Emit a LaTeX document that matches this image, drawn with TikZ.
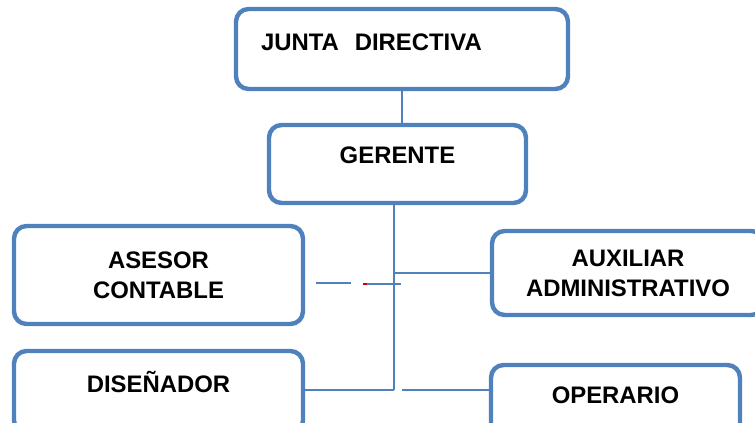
\documentclass[tikz,border=0pt]{standalone}
\usepackage{fontspec}
\setmainfont{Liberation Sans}
\usepackage{tikz}
\definecolor{cajaazul}{RGB}{79,129,189}

\begin{document}
\begin{tikzpicture}[x=0.02cm,y=-0.02cm,
    every node/.style={draw=cajaazul,line width=2.5pt,rounded corners=0.25cm,fill=white,
      font=\bfseries\fontsize{13.6}{17}\selectfont,align=center},
    linea/.style={draw=cajaazul,line width=1.1pt}]
  \useasboundingbox (0,0) rectangle (755,423);

  \node[rectangle,minimum width=6.64cm,minimum height=1.6cm,text width=5.64cm,align=left,
    text height=9.7pt,text depth=7.9pt] (junta) at (402,49) {JUNTA\ \ DIRECTIVA};
  \node[rectangle,minimum width=5.14cm,minimum height=1.56cm,
    text height=9.7pt,text depth=10.2pt] (gerente) at (397.5,164) {GERENTE};
  \node[rectangle,minimum width=5.78cm,minimum height=1.96cm] (asesor) at (158.5,275) {ASESOR\\CONTABLE};
  \node[rectangle,minimum width=5.44cm,minimum height=1.68cm] (auxiliar) at (628,273) {AUXILIAR\\ADMINISTRATIVO};
  \node[rectangle,minimum width=5.78cm,minimum height=1.64cm,
    text height=9.7pt,text depth=9pt] (disenador) at (158.5,392) {DISEÑADOR};
  \node[rectangle,minimum width=4.98cm,minimum height=1.6cm,
    text height=9.7pt,text depth=11.3pt] (operario) at (615.5,405) {OPERARIO};

  % puntos de union
  \coordinate (tronco) at (394,390);
  \coordinate (opinicio) at (402,390);
  \coordinate (trazoA) at (316,283);
  \coordinate (trazoB) at (351,283);
  \coordinate (rojoA) at (363,284);
  \coordinate (rojoB) at (367,284);
  \coordinate (trazoC) at (366,284);
  \coordinate (trazoD) at (401,284);

  \draw[linea] (junta.south) -- (junta.south |- gerente.north);
  \draw[linea] (gerente.south -| tronco) -- (tronco);
  \draw[linea] (tronco |- auxiliar.west) -- (auxiliar.west);
  \draw[linea] (disenador.east |- tronco) -- (tronco);
  \draw[linea] (opinicio) -- (opinicio -| operario.west);
  \draw[linea] (trazoA) -- (trazoB);
  \draw[linea] (trazoC) -- (trazoD);
  \draw[red!80!black,line width=1.1pt] (rojoA) -- (rojoB);
\end{tikzpicture}
\end{document}
